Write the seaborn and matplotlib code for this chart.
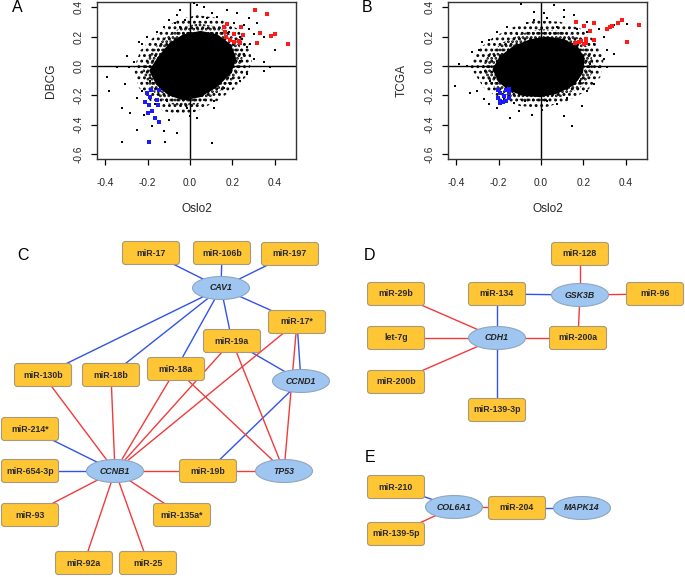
import matplotlib
matplotlib.use("Agg")
import matplotlib.pyplot as plt
import seaborn as sns
import pandas as pd
from matplotlib.patches import FancyBboxPatch, Ellipse, Polygon

sns.set_theme(style="white")
plt.rcParams['font.family'] = ['Liberation Sans', 'DejaVu Sans']
plt.rcParams['hatch.linewidth'] = 1.3

# ---------------- scatter data ----------------
x_ticks = [-0.4, -0.2, 0.0, 0.2, 0.4]
y_ticks = [-0.6, -0.4, -0.2, 0.0, 0.2, 0.4]
tick_labels_x = ["-0.4", "-0.2", "0.0", "0.2", "0.4"]
tick_labels_y = ["-0.6", "-0.4", "-0.2", "0.0", "0.2", "0.4"]

# solid core outline, dense speckle outline, sparse speckle outline
A_core_x = [-0.187, -0.147, -0.093, -0.030, 0.049, 0.127, 0.190, 0.213, 0.190, 0.127, 0.049, -0.030, -0.100, -0.155]
A_core_y = [-0.032, 0.059, 0.152, 0.209, 0.232, 0.209, 0.140, 0.048, -0.044, -0.136, -0.205, -0.228, -0.193, -0.124]
A_mid_x = [-0.225, -0.190, -0.124, -0.045, 0.041, 0.135, 0.205, 0.252, 0.240, 0.200, 0.127, 0.041, -0.038, -0.112, -0.170, -0.210]
A_mid_y = [-0.027, 0.083, 0.187, 0.262, 0.290, 0.266, 0.198, 0.095, 0.000, -0.100, -0.188, -0.257, -0.280, -0.250, -0.180, -0.110]
A_out_x = [-0.265, -0.234, -0.155, -0.061, 0.033, 0.143, 0.221, 0.276, 0.292, 0.268, 0.205, 0.127, 0.033, -0.045, -0.124, -0.187, -0.242]
A_out_y = [-0.021, 0.106, 0.221, 0.313, 0.347, 0.324, 0.255, 0.152, 0.037, -0.067, -0.159, -0.239, -0.308, -0.331, -0.308, -0.239, -0.147]
A_pts_x = [0.017, 0.033, 0.064, 0.104, -0.045, -0.061, -0.022, -0.069, 0.080, 0.127, 0.151, 0.205, 0.253, 0.276,
           0.300, 0.315, 0.347, 0.402, 0.347, 0.268, 0.253, 0.237, 0.300, -0.242, -0.226, -0.296, -0.265, -0.289,
           -0.344, -0.391, -0.383, -0.320, -0.281, -0.304, -0.249, -0.218, -0.249, -0.179, -0.124, -0.061, -0.100,
           -0.061, -0.014, 0.002, 0.017, -0.108, 0.104, -0.320, -0.116, 0.111, 0.158, 0.190, 0.237, 0.111, 0.033,
           -0.187, -0.226, -0.163, 0.347, 0.378, 0.268, -0.124, -0.155, -0.202, -0.100, 0.182, 0.237, 0.284, -0.045,
           0.221, 0.276, 0.174]
A_pts_y = [0.428, 0.416, 0.405, 0.363, 0.382, 0.347, 0.313, 0.290, 0.324, 0.336, 0.301, 0.290, 0.278, 0.255,
           0.221, 0.290, 0.198, 0.106, 0.025, 0.129, 0.083, 0.037, 0.048, 0.163, 0.152, 0.071, 0.025, -0.009,
           -0.009, -0.078, -0.170, -0.285, -0.320, -0.124, -0.216, -0.331, -0.434, -0.411, -0.446, -0.457, -0.366,
           -0.308, -0.285, -0.343, -0.308, -0.239, -0.526, -0.515, -0.515, -0.239, -0.147, -0.124, -0.101, -0.285,
           -0.354, -0.101, -0.170, -0.262, -0.032, -0.009, -0.055, 0.267, 0.232, 0.198, 0.313, 0.232, 0.198, 0.152,
           0.267, 0.359, 0.324, 0.382]
A_red_x = [0.307, 0.362, 0.158, 0.174, 0.166, 0.205, 0.240, 0.248, 0.171, 0.190, 0.205, 0.229, 0.237, 0.315, 0.328, 0.381, 0.402, 0.460]
A_red_y = [0.382, 0.352, 0.267, 0.285, 0.232, 0.221, 0.267, 0.209, 0.198, 0.175, 0.163, 0.170, 0.156, 0.159, 0.225, 0.202, 0.221, 0.152]
A_blue_x = [-0.202, -0.182, -0.147, -0.190, -0.210, -0.155, -0.195, -0.151, -0.179, -0.199, -0.163, -0.147, -0.191]
A_blue_y = [-0.186, -0.166, -0.166, -0.209, -0.246, -0.234, -0.267, -0.267, -0.308, -0.320, -0.354, -0.382, -0.515]

B_core_x = [-0.223, -0.191, -0.129, -0.050, 0.028, 0.107, 0.169, 0.201, 0.193, 0.154, 0.075, -0.003, -0.082, -0.152, -0.199]
B_core_y = [-0.021, 0.060, 0.129, 0.175, 0.193, 0.175, 0.129, 0.048, -0.044, -0.124, -0.182, -0.205, -0.198, -0.159, -0.101]
B_mid_x = [-0.280, -0.246, -0.176, -0.090, -0.004, 0.099, 0.177, 0.232, 0.248, 0.236, 0.185, 0.099, 0.005, -0.090, -0.172, -0.235]
B_mid_y = [-0.015, 0.083, 0.163, 0.221, 0.253, 0.238, 0.192, 0.105, 0.000, -0.061, -0.147, -0.210, -0.245, -0.236, -0.194, -0.124]
B_out_x = [-0.333, -0.301, -0.223, -0.129, -0.019, 0.091, 0.185, 0.264, 0.295, 0.279, 0.216, 0.122, 0.013, -0.097, -0.191, -0.270]
B_out_y = [-0.009, 0.106, 0.198, 0.267, 0.313, 0.301, 0.255, 0.163, 0.048, -0.078, -0.170, -0.239, -0.285, -0.274, -0.228, -0.147]
B_pts_x = [-0.094, 0.060, 0.013, -0.035, 0.107, 0.154, 0.216, 0.271, 0.342, 0.295, 0.248, 0.311, 0.342, 0.295,
           0.232, 0.271, 0.311, -0.278, -0.246, -0.325, -0.293, -0.387, -0.348, -0.403, -0.333, -0.301, -0.270,
           -0.246, -0.207, -0.144, -0.105, -0.042, 0.005, 0.107, 0.146, 0.193, 0.122, 0.216, 0.248, 0.185, -0.129,
           -0.074, -0.160, -0.113, -0.207, -0.066, 0.075, -0.035, 0.028, 0.216, 0.169, -0.238, -0.262, -0.176,
           0.028, 0.075, 0.405, 0.107]
B_pts_y = [0.423, 0.416, 0.359, 0.370, 0.336, 0.347, 0.301, 0.255, 0.278, 0.198, 0.152, 0.106, 0.083, 0.048,
           0.014, -0.009, -0.009, 0.163, 0.175, 0.094, 0.106, 0.014, 0.002, -0.136, -0.182, -0.170, -0.228,
           -0.262, -0.285, -0.354, -0.308, -0.331, -0.297, -0.343, -0.411, -0.274, -0.216, -0.170, -0.124, -0.101,
           -0.251, -0.239, 0.267, 0.221, 0.232, 0.290, 0.267, 0.313, 0.324, 0.232, 0.255, -0.101, -0.032, -0.228,
           -0.239, -0.262, 0.285, 0.382]
B_red_x = [0.166, 0.204, 0.232, 0.251, 0.248, 0.213, 0.162, 0.177, 0.188, 0.201, 0.212, 0.311, 0.323, 0.334, 0.361, 0.381, 0.405, 0.463]
B_red_y = [0.297, 0.274, 0.239, 0.294, 0.179, 0.186, 0.156, 0.163, 0.170, 0.152, 0.156, 0.255, 0.267, 0.271, 0.294, 0.313, 0.161, 0.278]
B_blue_x = [-0.204, -0.191, -0.204, -0.191, -0.176, -0.163, -0.152, -0.152, -0.163, -0.179, -0.195, -0.149]
B_blue_y = [-0.166, -0.182, -0.216, -0.239, -0.205, -0.166, -0.182, -0.216, -0.239, -0.246, -0.251, -0.159]

# ---------------- network data (layout, canvas pixels) ----------------
node_names = ["miR-17", "miR-106b", "miR-197", "CAV1", "miR-17*", "miR-19a", "miR-18a", "miR-130b", "miR-18b",
              "CCND1", "miR-214*", "CCNB1", "miR-654-3p", "miR-19b", "TP53", "miR-93", "miR-135a*", "miR-92a",
              "miR-25",
              "miR-128", "miR-29b", "miR-134", "GSK3B", "miR-96", "let-7g", "CDH1", "miR-200a", "miR-200b",
              "miR-139-3p",
              "miR-210", "COL6A1", "miR-204", "MAPK14", "miR-139-5p"]
node_x = [151, 222, 290, 221, 297, 232, 176, 43, 111, 301, 30, 115, 30, 208, 284, 30, 182, 84, 148,
          580, 396, 497, 580, 655, 396, 497, 578, 396, 497,
          396, 454, 517, 582, 396]
node_y = [253, 253, 254, 288, 322, 341, 369, 375, 375, 381, 429, 471, 471, 471, 471, 515, 515, 563, 563,
          254, 294, 294, 295, 294, 338, 338, 338, 382, 410,
          487, 507, 508, 508, 534]
gene_nodes = ["CAV1", "CCND1", "CCNB1", "TP53", "GSK3B", "CDH1", "COL6A1", "MAPK14"]

edge_src = ["miR-17", "miR-106b", "miR-197", "CAV1", "CAV1", "CAV1", "CAV1", "CAV1", "miR-19a", "miR-17*",
            "miR-214*", "miR-654-3p", "CCND1",
            "miR-17*", "miR-19a", "miR-18a", "miR-18b", "miR-130b", "miR-17*", "miR-19a", "miR-18a",
            "CCNB1", "miR-19b", "CCNB1", "CCNB1", "CCNB1", "CCNB1",
            "miR-128", "miR-134", "GSK3B", "GSK3B", "miR-134", "miR-29b", "let-7g", "miR-200b", "CDH1", "CDH1",
            "miR-210", "miR-139-5p", "COL6A1", "miR-204"]
edge_dst = ["CAV1", "CAV1", "CAV1", "miR-17*", "miR-19a", "miR-18a", "miR-18b", "miR-130b", "CCND1", "CCND1",
            "CCNB1", "CCNB1", "miR-19b",
            "CCNB1", "CCNB1", "CCNB1", "CCNB1", "CCNB1", "TP53", "TP53", "TP53",
            "miR-19b", "TP53", "miR-93", "miR-135a*", "miR-92a", "miR-25",
            "GSK3B", "GSK3B", "miR-96", "miR-200a", "CDH1", "CDH1", "CDH1", "CDH1", "miR-200a", "miR-139-3p",
            "COL6A1", "COL6A1", "miR-204", "MAPK14"]
edge_sign = ["neg"] * 13 + ["pos"] * 14 + ["pos", "neg", "pos", "pos", "neg", "pos", "pos", "pos", "pos", "neg"] + \
            ["neg", "pos", "pos", "neg"]

panel_letters = ["A", "B", "C", "D", "E"]
letter_x = [17, 367, 23, 370, 370]
letter_y = [8, 8, 255, 255, 457]

# ---------------- figure ----------------
W, H = 685, 577
fig = plt.figure(figsize=(W / 100, H / 100), dpi=100)
fig.patch.set_facecolor("white")

net = fig.add_axes([0, 0, 1, 1])

pos = {n: (x, y) for n, x, y in zip(node_names, node_x, node_y)}
edge_colors = {"neg": "#3153e8", "pos": "#f23a3a"}
edges = pd.DataFrame({"src": edge_src, "dst": edge_dst, "sign": edge_sign})
for i, row in edges.iterrows():
    x0, y0 = pos[row.src]
    x1, y1 = pos[row.dst]
    seg = pd.DataFrame({"x": [x0, x1], "y": [y0, y1]})
    sns.lineplot(data=seg, x="x", y="y", ax=net, color=edge_colors[row.sign], lw=1.0,
                 sort=False, estimator=None, zorder=1)
net.set_xlim(0, W)
net.set_ylim(H, 0)
net.axis("off")

bw, bh = 57, 23
for n in node_names:
    x, y = pos[n]
    if n in gene_nodes:
        net.add_patch(Ellipse((x, y), bw, bh, facecolor="#9fc6f0", edgecolor="#8ea6c0", lw=0.8, zorder=2))
        net.text(x, y, n, ha="center", va="center", fontsize=6.3, fontweight="bold", fontstyle="italic",
                 color="#222222", zorder=3)
    else:
        net.add_patch(FancyBboxPatch((x - bw / 2 + 2, y - bh / 2 + 2), bw - 4, bh - 4,
                                     boxstyle="round,pad=2,rounding_size=3",
                                     facecolor="#fec535", edgecolor="#a89a78", lw=0.8, zorder=2))
        net.text(x, y, n, ha="center", va="center", fontsize=6.3, fontweight="bold",
                 color="#2a2a2a", zorder=3)

for L, lx, ly in zip(panel_letters, letter_x, letter_y):
    net.text(lx, ly, L, ha="center", va="center", fontsize=11.5, color="black")


def scatter_panel(rect, core_x, core_y, mid_x, mid_y, out_x, out_y, px, py, rx, ry, bx, by, ylabel):
    ax = fig.add_axes(rect)
    ax.set_facecolor("white")
    ax.add_patch(Polygon(list(zip(out_x, out_y)), closed=True, facecolor="none", edgecolor="black",
                         hatch="...", lw=0, zorder=1))
    ax.add_patch(Polygon(list(zip(mid_x, mid_y)), closed=True, facecolor="none", edgecolor="black",
                         hatch="....", lw=0, zorder=1.2))
    ax.add_patch(Polygon(list(zip(core_x, core_y)), closed=True, facecolor="black", edgecolor="black",
                         lw=1.5, zorder=1.5))
    ax.axhline(0, color="black", lw=1.0, zorder=2)
    ax.axvline(0, color="black", lw=1.0, zorder=2)
    sns.scatterplot(x=px, y=py, ax=ax, color="black", marker="s", s=1.3, linewidth=0, zorder=3)
    sns.scatterplot(x=rx, y=ry, ax=ax, color="#ff1a1a", marker="s", s=6, linewidth=0, zorder=4)
    sns.scatterplot(x=bx, y=by, ax=ax, color="#1a1aff", marker="s", s=6, linewidth=0, zorder=4)
    ax.set_xlim(-0.438, 0.499)
    ax.set_ylim(-0.634, 0.436)
    ax.set_xticks(x_ticks)
    ax.set_xticklabels(tick_labels_x)
    ax.set_yticks(y_ticks)
    ax.set_yticklabels(tick_labels_y, rotation=90, va="center")
    ax.tick_params(axis="both", direction="out", length=4.5, width=0.9, color="black",
                   labelsize=7.3, left=True, bottom=True)
    ax.tick_params(axis="x", pad=9)
    ax.tick_params(axis="y", pad=5)
    for sp in ax.spines.values():
        sp.set_visible(True)
        sp.set_color("#333333")
        sp.set_linewidth(1.0)
    ax.set_xlabel("Oslo2", fontsize=8.6, labelpad=11)
    ax.set_ylabel(ylabel, fontsize=8.6, labelpad=12)
    return ax


scatter_panel([97 / W, 1 - 159 / H, 199 / W, 157 / H], A_core_x, A_core_y, A_mid_x, A_mid_y, A_out_x, A_out_y,
              A_pts_x, A_pts_y, A_red_x, A_red_y, A_blue_x, A_blue_y, "DBCG")
scatter_panel([448 / W, 1 - 159 / H, 199 / W, 157 / H], B_core_x, B_core_y, B_mid_x, B_mid_y, B_out_x, B_out_y,
              B_pts_x, B_pts_y, B_red_x, B_red_y, B_blue_x, B_blue_y, "TCGA")

fig.savefig("out.png", dpi=100, facecolor="white")
